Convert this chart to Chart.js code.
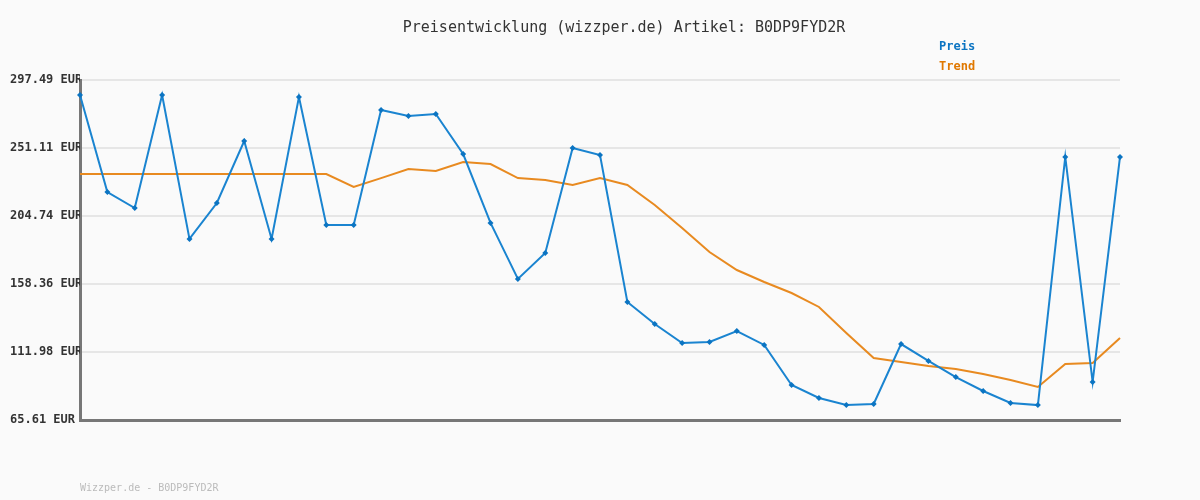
<!DOCTYPE html>
<html>
<head>
<meta charset="utf-8">
<script src="https://cdn.jsdelivr.net/npm/chart.js@4"></script>
<style>
    body { margin: 0; background: #fafafa; }
    #wrap { width: 1200px; height: 500px; }
</style>
</head>
<body>
<div id="wrap"><canvas id="myChart" width="1200" height="500"></canvas></div>
<script>
// Data
const labels = Array.from({ length: 39 }, (_, i) => String(i + 1));
const preis = [287.3, 221.1, 210.2, 287.3, 189.1, 213.6, 255.9, 189.1, 285.9, 198.6,
    198.6, 277.0, 272.9, 274.3, 247.0, 200.0, 161.8, 179.5, 251.1, 246.3,
    146.1, 131.1, 118.1, 118.8, 126.3, 116.8, 89.5, 80.6, 75.8, 76.5,
    117.4, 105.9, 94.9, 85.4, 77.2, 75.8, 245.0, 91.5, 245.0];
const trend = [233.4, 233.4, 233.4, 233.4, 233.4, 233.4, 233.4, 233.4, 233.4, 233.4,
    224.5, 230.6, 236.8, 235.4, 241.6, 240.2, 230.6, 229.3, 225.9, 230.6,
    225.9, 212.2, 196.6, 180.2, 167.9, 159.7, 152.2, 142.7, 125.0, 107.9,
    105.2, 102.4, 100.4, 97.0, 92.9, 88.1, 103.8, 104.5, 121.5];
const yTicks = [65.61, 111.98, 158.36, 204.74, 251.11, 297.49];

const titleText = 'Preisentwicklung (wizzper.de) Artikel: B0DP9FYD2R';
const footerText = 'Wizzper.de - B0DP9FYD2R';

// draws title, legend and footer as canvas text
const textPlugin = {
    id: 'texts',
    afterDraw(chart) {
        const c = chart.ctx;
        c.save();
        c.textBaseline = 'middle';
        c.textAlign = 'center';
        c.fillStyle = '#333';
        c.font = '15px "DejaVu Sans Mono", monospace';
        c.fillText(titleText, 624, 28);

        c.textAlign = 'left';
        c.font = 'bold 12px "DejaVu Sans Mono", monospace';
        c.fillStyle = '#0b74c2';
        c.fillText('Preis', 939, 47);
        c.fillStyle = '#e07800';
        c.fillText('Trend', 939, 67);

        c.font = '10px "DejaVu Sans Mono", monospace';
        c.fillStyle = '#bbb';
        c.fillText(footerText, 80, 488);
        c.restore();
    }
};

const bgPlugin = {
    id: 'bg',
    beforeDraw(chart) {
        const c = chart.ctx;
        c.save();
        c.fillStyle = '#fafafa';
        c.fillRect(0, 0, chart.width, chart.height);
        c.restore();
    }
};

const ctx = document.getElementById('myChart').getContext('2d');
const myChart = new Chart(ctx, {
    type: 'line',
    data: {
        labels: labels,
        datasets: [
            {
                label: 'Preis',
                data: preis,
                borderColor: '#1a84d0',
                backgroundColor: '#0b74c2',
                borderWidth: 2,
                pointStyle: 'rectRot',
                pointRadius: 3,
                pointBorderWidth: 0,
                tension: 0,
                order: 1
            },
            {
                label: 'Trend',
                data: trend,
                borderColor: '#e88a20',
                borderWidth: 2,
                pointRadius: 0,
                tension: 0,
                order: 2
            }
        ]
    },
    options: {
        responsive: false,
        animation: false,
        layout: { padding: { left: 10, top: 80, right: 80, bottom: 80 } },
        plugins: {
            legend: { display: false },
            title: { display: false },
            tooltip: { enabled: false }
        },
        scales: {
            x: {
                offset: false,
                grid: { display: false, drawTicks: false },
                ticks: { display: false },
                border: { display: true, color: '#777', width: 3 },
                afterFit(scale) { scale.height = 0; }
            },
            y: {
                min: yTicks[0],
                max: yTicks[yTicks.length - 1],
                afterBuildTicks(scale) {
                    scale.ticks = yTicks.map(v => ({ value: v }));
                },
                afterFit(scale) { scale.width = 70; },
                grid: { color: '#e6e6e6', lineWidth: 2, drawTicks: false },
                border: { display: true, color: '#777', width: 3 },
                ticks: {
                    crossAlign: 'far',
                    padding: 0,
                    color: '#333',
                    font: { family: '"DejaVu Sans Mono", monospace', size: 12, weight: 'bold' },
                    callback: v => v.toFixed(2) + ' EUR'
                }
            }
        }
    },
    plugins: [bgPlugin, textPlugin]
});
</script>
</body>
</html>
